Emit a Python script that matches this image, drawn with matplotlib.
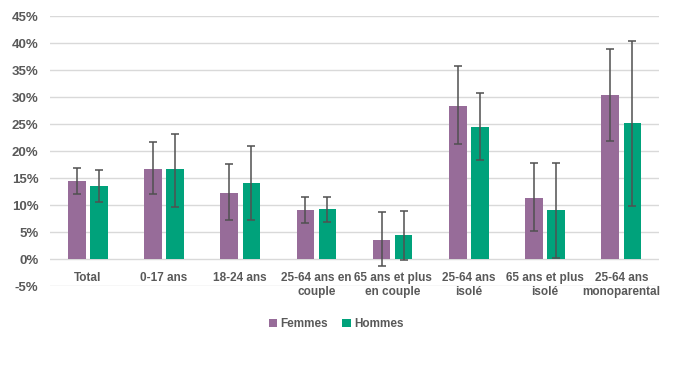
import numpy as np
import matplotlib
matplotlib.use("Agg")
import matplotlib.pyplot as plt
from matplotlib.ticker import FuncFormatter

plt.rcParams['font.family'] = ['Liberation Sans', 'DejaVu Sans']

categories = ["Total", "0-17 ans", "18-24 ans", "25-64 ans en\ncouple",
              "65 ans et plus\nen couple", "25-64 ans\nisolé",
              "65 ans et plus\nisolé", "25-64 ans\nmonoparental"]

femmes = [14.4, 16.7, 12.3, 9.05, 3.5, 28.4, 11.3, 30.4]
femmes_low = [12.1, 12.1, 7.3, 6.7, -1.35, 21.4, 5.2, 21.9]
femmes_high = [16.9, 21.7, 17.6, 11.5, 8.7, 35.7, 17.8, 39.0]

hommes = [13.5, 16.6, 14.1, 9.2, 4.4, 24.4, 9.05, 25.2]
hommes_low = [10.6, 9.7, 7.3, 6.8, -0.25, 18.3, 0.3, 9.9]
hommes_high = [16.5, 23.2, 20.9, 11.5, 9.0, 30.7, 17.8, 40.4]

PURPLE = "#976c99"
GREEN = "#00a27b"
TEXT = "#595959"

x = np.arange(len(categories))
w = 0.23
off = 0.145

fig, ax = plt.subplots(figsize=(7, 3.75), dpi=100)
fig.subplots_adjust(left=0.071, right=0.942, top=0.957, bottom=0.237)

err_f = [np.array(femmes) - np.array(femmes_low), np.array(femmes_high) - np.array(femmes)]
err_h = [np.array(hommes) - np.array(hommes_low), np.array(hommes_high) - np.array(hommes)]

ekw = dict(ecolor="#505050", elinewidth=1.1, capsize=3, capthick=1.1)
ax.bar(x - off, femmes, w, color=PURPLE, label="Femmes", yerr=err_f, error_kw=ekw, zorder=3)
ax.bar(x + off, hommes, w, color=GREEN, label="Hommes", yerr=err_h, error_kw=ekw, zorder=3)

ax.set_ylim(-5, 45)
ax.set_yticks(np.arange(-5, 46, 5))
ax.yaxis.set_major_formatter(FuncFormatter(lambda v, p: f"{v:.0f}%"))
ax.set_xlim(-0.5, len(categories) - 0.5)
ax.set_xticks(x)
ax.set_xticklabels(categories)
ax.grid(axis="y", color="#d9d9d9", linewidth=1, zorder=0)
ax.spines['bottom'].set_position(('data', 0))
for s in ax.spines.values():
    s.set_visible(False)
ax.tick_params(length=0, colors=TEXT, labelsize=8.5)
ax.tick_params(axis="x", pad=9)
ax.tick_params(axis="y", labelsize=9.5, pad=8)
for lbl in ax.get_xticklabels() + ax.get_yticklabels():
    lbl.set_fontweight("bold")
    lbl.set_color(TEXT)
for lbl in ax.get_xticklabels():
    lbl.set_linespacing(1.25)

leg = ax.legend(loc="center", bbox_to_anchor=(0.47, -0.14), ncol=2, frameon=False,
                handlelength=0.7, handleheight=0.7, handletextpad=0.3, columnspacing=1.2,
                prop={"weight": "bold", "size": 8.5})
for t in leg.get_texts():
    t.set_color(TEXT)

fig.savefig("out.png", dpi=100)
